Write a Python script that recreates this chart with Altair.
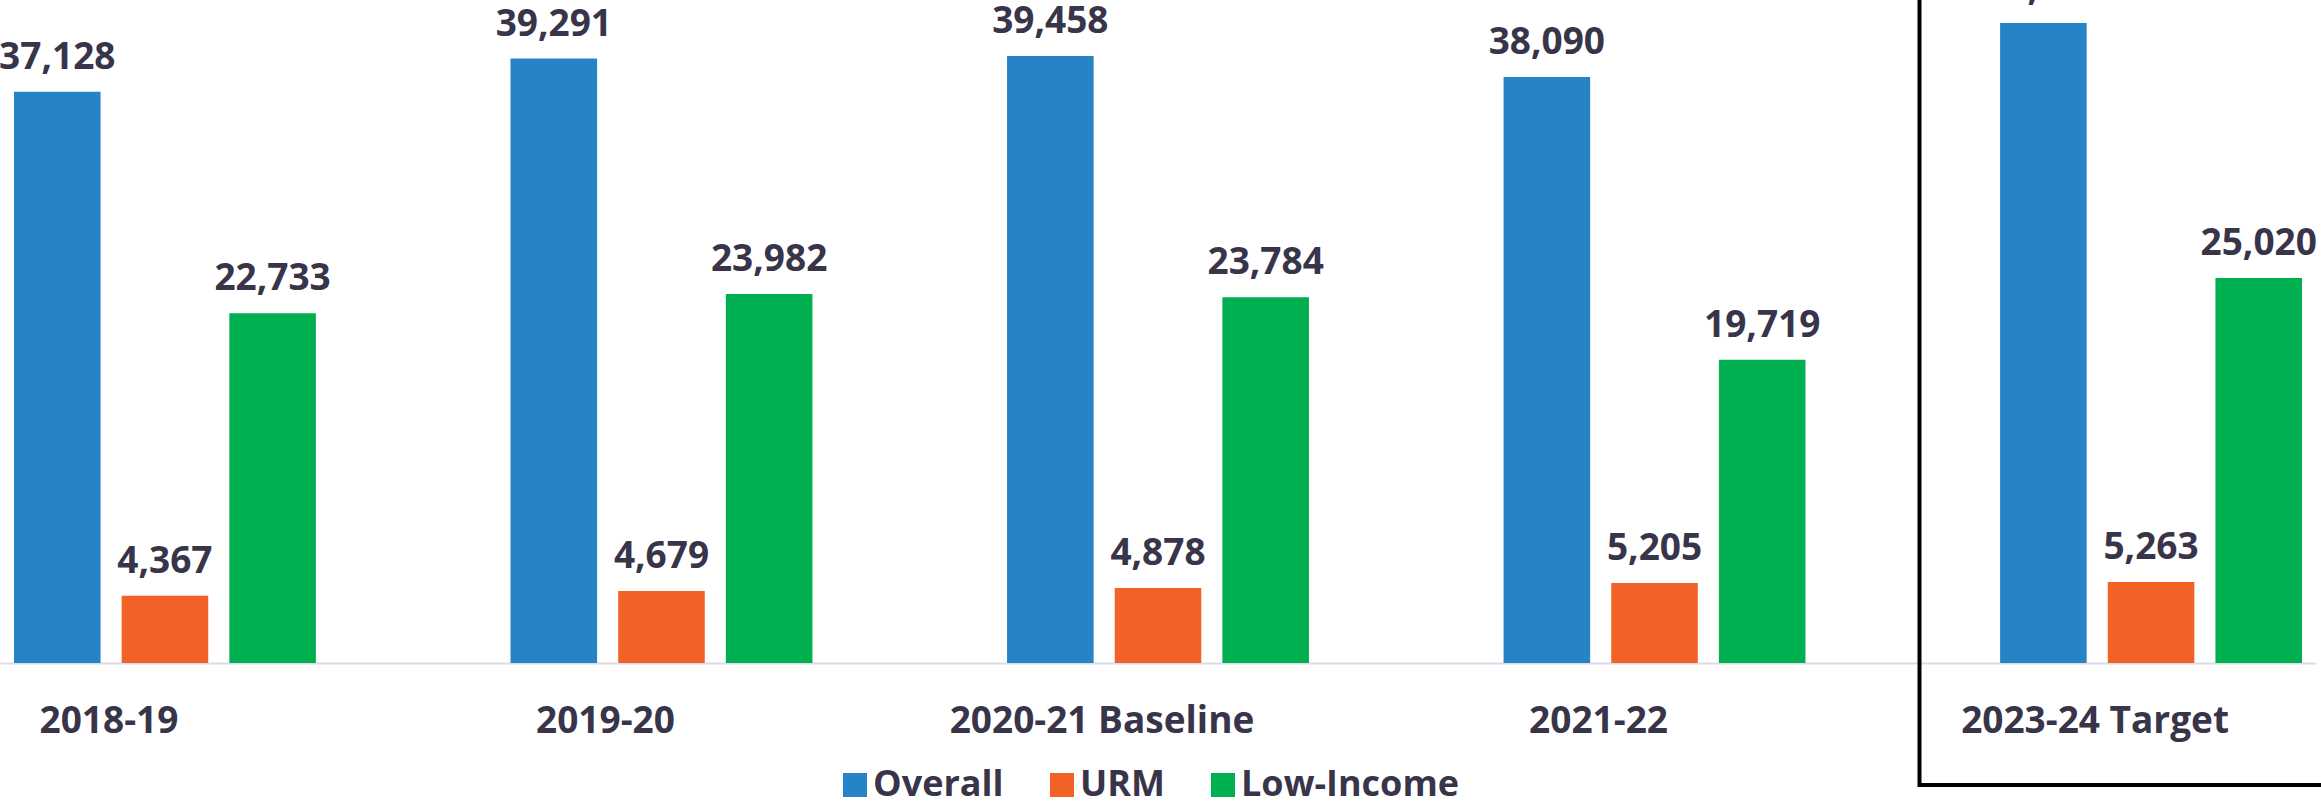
import altair as alt
import pandas as pd

years = ["2018-19", "2019-20", "2020-21 Baseline", "2021-22", "2023-24 Target"]
series = ["Overall", "URM", "Low-Income"]
overall = [37128, 39291, 39458, 38090, 41600]
urm = [4367, 4679, 4878, 5205, 5263]
low_income = [22733, 23982, 23784, 19719, 25020]
colors = ["#2683C6", "#F26125", "#00AF50"]

rows = []
for s, vals in zip(series, [overall, urm, low_income]):
    for y, v in zip(years, vals):
        rows.append({"year": y, "series": s, "value": v})
df = pd.DataFrame(rows)

FONT = "Open Sans"
TXT = "#38344A"

x = alt.X("year:N", sort=years, title=None,
          scale=alt.Scale(paddingInner=0.392, paddingOuter=0.0282),
          axis=alt.Axis(labelAngle=0, labelFont=FONT, labelFontSize=37,
                        labelFontWeight="bold", labelColor=TXT, labelPadding=40,
                        labelOffset=-56, labelLimit=0, ticks=False, tickSize=0,
                        domainColor="#DCDCE6", domainWidth=2, grid=False))
xo = alt.XOffset("series:N", sort=series,
                 scale=alt.Scale(paddingInner=0.196, paddingOuter=0))
y = alt.Y("value:Q", scale=alt.Scale(domain=[0, 43100], nice=False),
          axis=None)

bars = alt.Chart(df).mark_bar().encode(
    x=x, xOffset=xo, y=y,
    color=alt.Color("series:N", sort=series,
                    scale=alt.Scale(domain=series, range=colors),
                    legend=alt.Legend(orient="none", legendX=837, legendY=767,
                                      direction="horizontal", title=None,
                                      symbolType="square", symbolSize=576,
                                      symbolStrokeWidth=0, labelFont=FONT,
                                      labelFontSize=36, labelFontWeight="bold",
                                      labelColor=TXT, labelOffset=0,
                                      labelLimit=0,
                                      columnPadding=40, padding=0)),
)

labels = alt.Chart(df).mark_text(
    font=FONT, fontSize=37, fontWeight="bold", color=TXT, dy=-23,
    baseline="alphabetic", align="center"
).encode(
    x=x, xOffset=xo, y=y,
    text=alt.Text("value:Q", format=",")
)

box = alt.Chart(pd.DataFrame({"k": [1]})).mark_rect(
    fill=None, stroke="black", strokeWidth=4
).encode(
    x=alt.value(1919.5), x2=alt.value(2450),
    y=alt.value(-60), y2=alt.value(785)
)

chart = alt.layer(bars, labels, box).properties(
    width=2316, height=663,
    autosize=alt.AutoSizeParams(type="none"),
    padding={"left": 0, "top": 0, "right": 5, "bottom": 140},
    background="white"
).configure_view(stroke=None)

chart.save("out.html", embed_options={"renderer": "svg", "actions": False})
